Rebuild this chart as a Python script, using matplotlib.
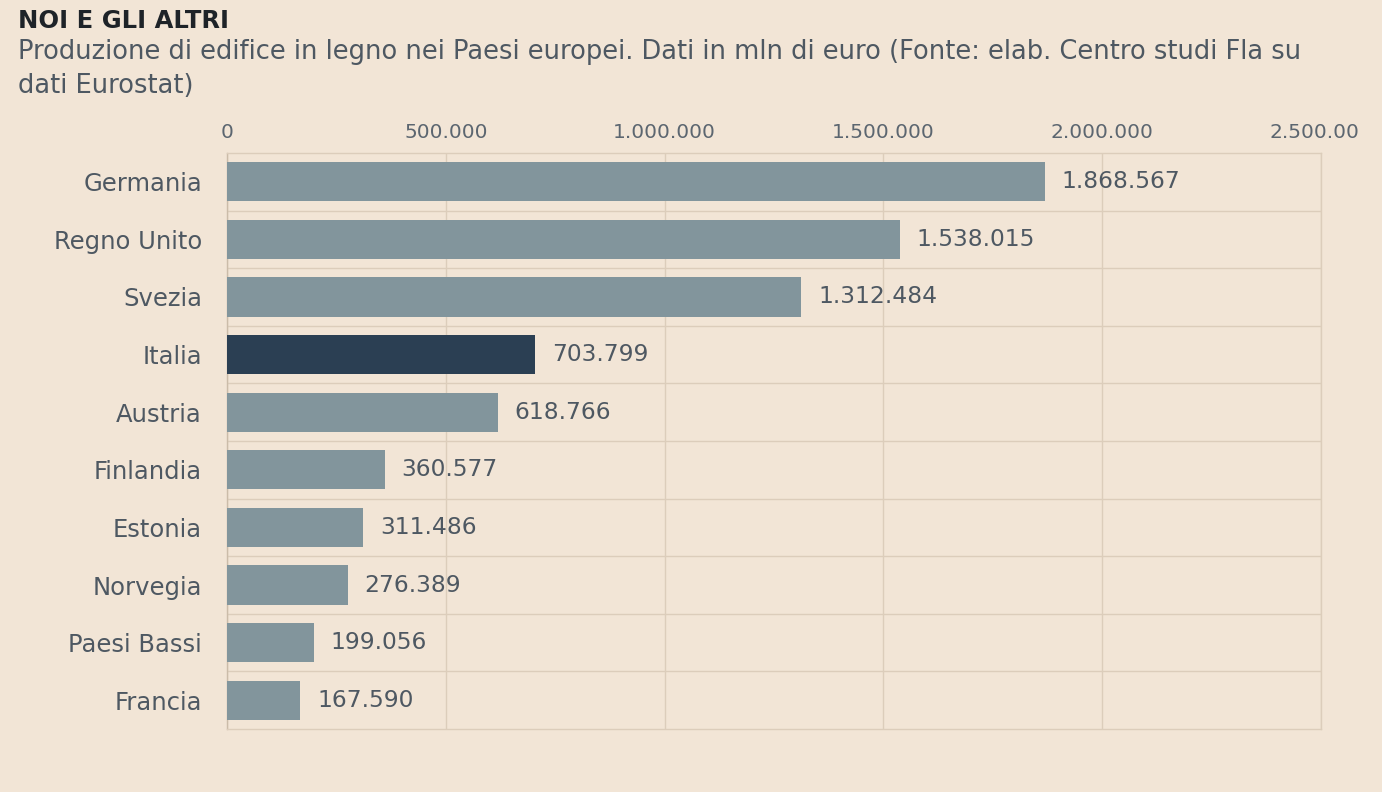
import matplotlib.pyplot as plt
from matplotlib.ticker import FuncFormatter
from matplotlib.transforms import Bbox, TransformedBbox

countries = ["Germania", "Regno Unito", "Svezia", "Italia", "Austria",
             "Finlandia", "Estonia", "Norvegia", "Paesi Bassi", "Francia"]
values = [1868567, 1538015, 1312484, 703799, 618766,
          360577, 311486, 276389, 199056, 167590]
highlight = "Italia"

ticks = [0, 500000, 1000000, 1500000, 2000000, 2500000]

bg = "#f2e5d6"
grid_col = "#dccdbb"
bar_col = "#82959c"
hl_col = "#2b3f53"
text_col = "#4e5862"

plt.rcParams["font.family"] = ["DejaVu Sans"]


def it_fmt(v):
    return f"{int(round(v)):,}".replace(",", ".")


fig = plt.figure(figsize=(13.82, 7.92), dpi=100, facecolor=bg)
ax = fig.add_axes([227 / 1382, 63 / 792, 1094 / 1382, 576 / 792], facecolor=bg)

ypos = list(range(len(countries)))
colors = [hl_col if c == highlight else bar_col for c in countries]
ax.barh(ypos, values, height=0.68, color=colors, zorder=3)

for y, v in zip(ypos, values):
    ax.annotate(it_fmt(v), (v, y), xytext=(12, 0), textcoords="offset points",
                va="center", ha="left", fontsize=16.8, color=text_col, zorder=4)

ax.set_xlim(0, 2500000)
ax.set_ylim(len(countries) - 0.5, -0.5)
ax.set_xticks(ticks)
ax.xaxis.set_major_formatter(FuncFormatter(lambda v, p: it_fmt(v)))
ax.xaxis.tick_top()
ax.tick_params(axis="x", length=0, pad=8, labelsize=14.5, labelcolor="#5c6670")
ax.set_yticks(ypos)
ax.set_yticklabels(countries)
ax.tick_params(axis="y", length=0, pad=18, labelsize=17.5, labelcolor=text_col)

# last tick label is cut at the right edge in the original
clip = TransformedBbox(Bbox([[0, 0], [1360 / 1382, 1]]), fig.transFigure)
for lbl in ax.get_xticklabels():
    lbl.set_clip_box(clip)
    lbl.set_clip_on(True)

# grid: vertical at ticks, horizontal between rows
ax.grid(axis="x", color=grid_col, linewidth=1, zorder=0)
for y in range(1, len(countries)):
    ax.axhline(y - 0.5, color=grid_col, linewidth=1, zorder=1)
for s in ax.spines.values():
    s.set_color(grid_col)
    s.set_linewidth(1)
ax.spines["left"].set_color("#cbbca9")

fig.text(18 / 1382, 1 - 21 / 792, "NOI E GLI ALTRI", fontsize=17.5, fontweight="bold",
         color="#1e2328", va="center", ha="left")
fig.text(18 / 1382, 1 - 52 / 792,
         "Produzione di edifice in legno nei Paesi europei. Dati in mln di euro (Fonte: elab. Centro studi Fla su",
         fontsize=18.5, color=text_col, va="center", ha="left")
fig.text(18 / 1382, 1 - 86 / 792, "dati Eurostat)",
         fontsize=18.5, color=text_col, va="center", ha="left")

fig.savefig("out.png", dpi=100, facecolor=bg)
